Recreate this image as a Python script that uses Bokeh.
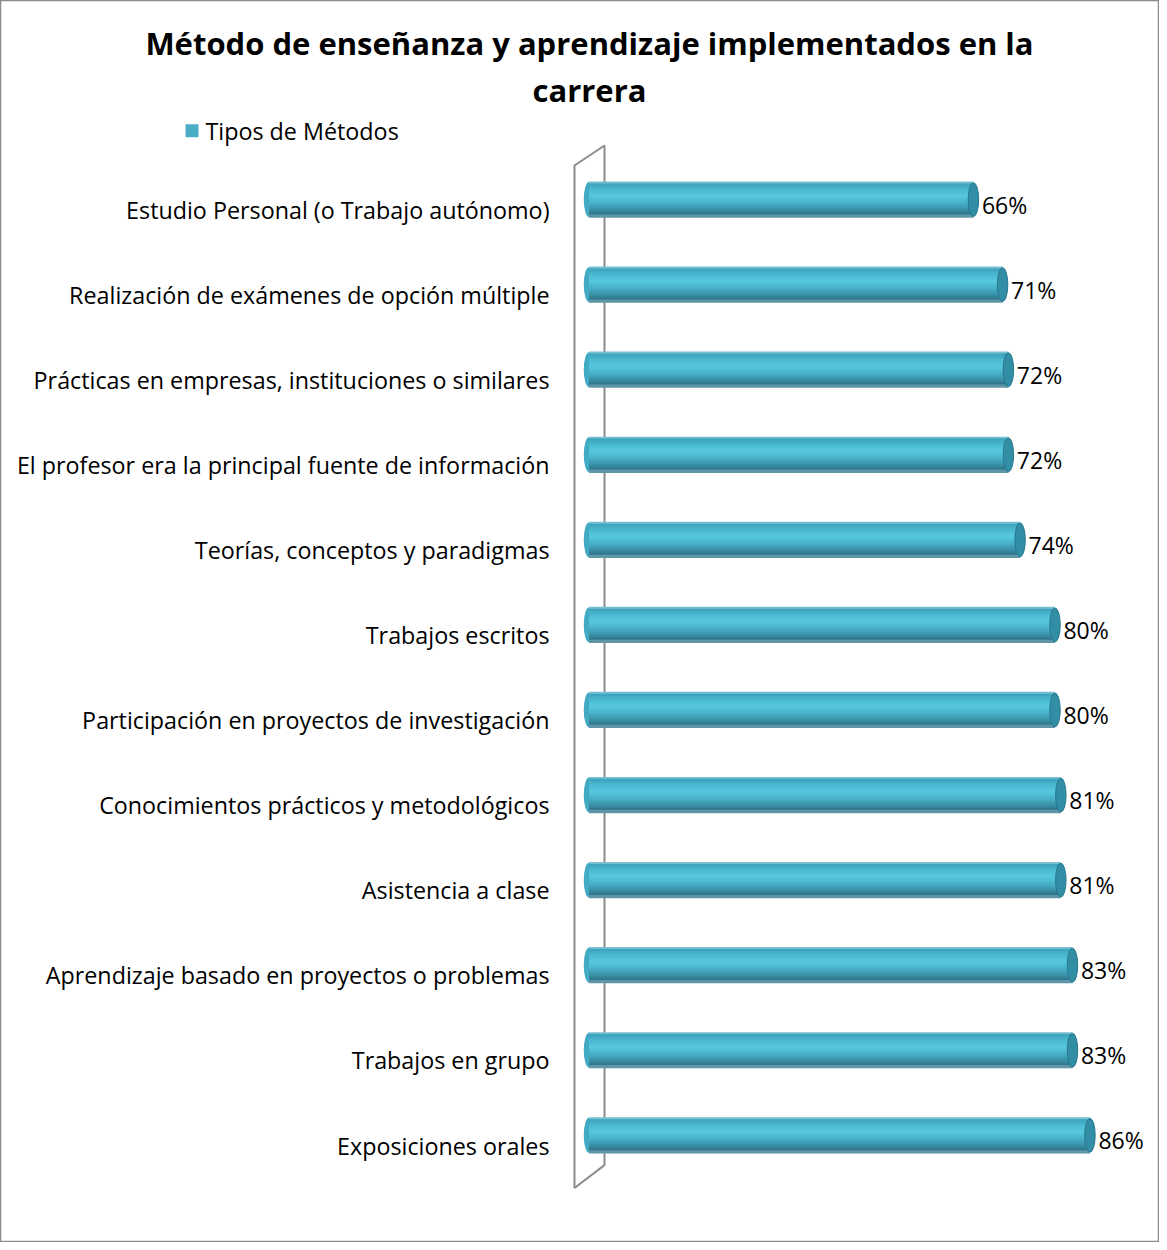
from bokeh.plotting import figure
from bokeh.models import Range1d, ColumnDataSource
from bokeh.core.properties import value
from bokeh.embed import file_html
from bokeh.resources import INLINE

# ---- data ----
categories = [
    "Estudio Personal (o Trabajo autónomo)",
    "Realización de exámenes de opción múltiple",
    "Prácticas en empresas, instituciones o similares",
    "El profesor era la principal fuente de información",
    "Teorías, conceptos y paradigmas",
    "Trabajos escritos",
    "Participación en proyectos de investigación",
    "Conocimientos prácticos y metodológicos",
    "Asistencia a clase",
    "Aprendizaje basado en proyectos o problemas",
    "Trabajos en grupo",
    "Exposiciones orales",
]
values = [66, 71, 72, 72, 74, 80, 80, 81, 81, 83, 83, 86]
series_name = "Tipos de Métodos"
title_lines = ["Método de enseñanza y aprendizaje implementados en la", "carrera"]

n = len(categories)
rows = list(range(n))
labels = [f"{v}%" for v in values]

W, H = 1159, 1242
FONT = value("Open Sans")

p = figure(width=W, height=H, output_backend="svg", toolbar_location=None,
           x_range=Range1d(-101.03, 97.94), y_range=Range1d(12.26, -2.34),
           min_border=0, min_border_left=0, min_border_right=0,
           min_border_top=0, min_border_bottom=0)
p.axis.visible = False
p.grid.visible = False
p.outline_line_color = "#8c8c8c"
p.outline_line_width = 1.5
p.background_fill_color = "white"
p.border_fill_color = "white"

src = ColumnDataSource(dict(y=rows, v=values, cat=categories, lab=labels,
                            ylab=[r + 0.12 for r in rows],
                            yval=[r + 0.06 for r in rows],
                            xval=[v + 1.45 for v in values]))

# ---- 3D wall (decoration) ----
p.patch(x=[-2.49, 2.66, 2.66, -2.49], y=[-0.40, -0.635, n - 1 + 0.35, n - 1 + 0.62],
        fill_color="white", fill_alpha=0.0, line_color="#8c8c8c", line_width=2)

# ---- cylinder bars (shaded in horizontal slices) ----
BH = 0.41
stops = [(0.0, (0xa8, 0xd8, 0xe4)), (0.06, (0x3c, 0xa2, 0xbb)), (0.25, (0x4b, 0xbb, 0xd3)),
         (0.42, (0x56, 0xc8, 0xde)), (0.62, (0x48, 0xb1, 0xc9)), (0.85, (0x36, 0x88, 0x9f)),
         (0.95, (0x2d, 0x70, 0x84)), (1.0, (0x9c, 0xc6, 0xd2))]


def shade(t):
    for (t0, c0), (t1, c1) in zip(stops[:-1], stops[1:]):
        if t0 <= t <= t1:
            f = (t - t0) / (t1 - t0) if t1 > t0 else 0
            return "#%02x%02x%02x" % tuple(int(round(a + (b - a) * f)) for a, b in zip(c0, c1))
    return "#%02x%02x%02x" % stops[-1][1]


p.ellipse(x=0, y="y", width=1.8, height=BH, source=src, fill_color="#42aac3", line_color=None)
m = 18
for k in range(m):
    t = (k + 0.5) / m
    off = -BH / 2 + t * BH
    p.hbar(y=[r + off for r in rows], left=0, right=values, height=BH / m * 1.7,
           fill_color=shade(t), line_color=None)
p.ellipse(x="v", y="y", width=1.8, height=BH * 0.97, source=src, fill_color="#318ea5",
          line_color="#27788e", line_width=1)

# ---- texts ----
p.text(x=-6.78, y="ylab", text="cat", source=src, text_font=FONT, text_font_size="23.3px",
       text_align="right", text_baseline="middle", text_color="black")
p.text(x="xval", y="yval", text="lab", source=src, text_font=FONT, text_font_size="23px",
       text_align="left", text_baseline="middle", text_color="black")

p.text(x=[0.08, 0.08], y=[-1.846, -1.293], text=title_lines, text_font=FONT,
       text_font_size="31px", text_font_style="bold", text_align="center",
       text_baseline="middle", text_color="black")

# legend
p.scatter(x=[-68.15], y=[-0.81], marker="square", size=13, fill_color="#4bacc6", line_color=None)
p.text(x=[-65.84], y=[-0.81], text=[series_name], text_font=FONT, text_font_size="23.3px",
       text_align="left", text_baseline="middle", text_color="black")

open("out.html", "w").write(file_html(p, INLINE))
